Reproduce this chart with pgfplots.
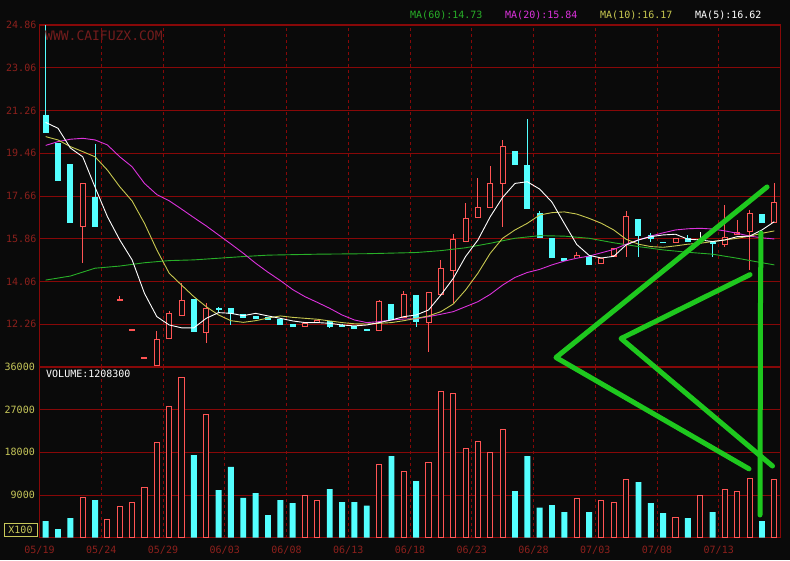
\documentclass[border=0pt]{standalone}
\usepackage{pgfplots}
\pgfplotsset{compat=1.18}
\usepackage{pgfplotstable}
\usepackage{fontspec}
\newfontfamily\mono{DejaVu Sans Mono}
\definecolor{bg}{RGB}{10,10,10}
\definecolor{gridred}{RGB}{135,8,8}
\definecolor{labred}{RGB}{140,32,28}
\definecolor{wwwred}{RGB}{115,28,28}
\definecolor{volyel}{RGB}{200,200,90}
\definecolor{cred}{RGB}{255,84,84}
\definecolor{ccyan}{RGB}{84,255,255}
\definecolor{ma60}{RGB}{40,175,40}
\definecolor{ma20}{RGB}{220,50,220}
\definecolor{ma10}{RGB}{200,200,80}
\definecolor{anno}{RGB}{30,200,30}

\pgfplotstableread{
x o c h l
3 16.34 18.21 18.21 14.85
6 13.24 13.32 13.45 13.24
7 12.01 12.03 12.03 12.01
8 10.84 10.86 10.86 10.84
9 10.51 11.64 11.99 10.51
10 11.63 12.72 12.83 11.63
11 12.62 13.28 13.98 12.62
13 11.90 12.93 13.17 11.48
21 12.16 12.30 12.30 12.16
22 12.30 12.44 12.44 12.30
27 11.99 13.24 13.28 11.99
29 12.51 13.52 13.66 12.51
31 12.33 13.61 13.61 11.10
32 13.49 14.62 14.97 13.49
33 14.52 15.84 16.08 13.14
34 15.74 16.72 17.38 15.74
35 16.72 17.18 18.43 16.72
36 17.14 18.22 18.92 17.14
37 18.15 19.78 20.02 16.37
43 15.04 15.18 15.32 15.04
45 14.80 15.04 15.04 14.80
46 15.11 15.46 15.46 15.11
47 15.60 16.82 17.04 15.11
51 15.67 15.88 15.88 15.67
55 15.60 15.95 17.28 15.50
56 16.02 16.16 16.65 16.02
57 16.16 16.93 17.07 14.55
59 16.51 17.42 18.22 16.51
}\redc

\pgfplotstableread{
x o c h l
0 21.07 20.33 24.86 20.33
1 19.88 18.29 19.88 18.29
2 19.01 16.51 19.01 16.51
4 17.63 16.37 19.85 16.37
12 13.31 11.95 13.31 11.95
14 12.91 12.89 13.00 12.79
15 12.93 12.68 12.95 12.21
16 12.68 12.54 12.68 12.54
17 12.62 12.47 12.62 12.47
18 12.57 12.43 12.57 12.43
19 12.48 12.23 12.48 12.23
20 12.28 12.16 12.28 12.16
23 12.41 12.16 12.41 12.12
24 12.21 12.19 12.27 12.13
25 12.20 12.05 12.20 12.05
26 12.07 11.99 12.07 11.99
28 13.11 12.44 13.11 12.44
30 13.49 12.37 13.49 12.16
38 19.55 18.97 19.55 18.97
39 18.97 17.10 20.90 17.10
40 16.93 15.90 17.02 15.90
41 15.88 15.04 15.88 15.04
42 15.04 14.94 15.04 14.94
44 15.13 14.75 15.13 14.75
48 16.69 15.99 16.69 15.11
49 16.02 15.85 16.12 15.74
50 15.74 15.67 15.74 15.67
52 15.88 15.74 16.00 15.74
54 15.74 15.64 15.74 15.11
58 16.90 16.54 16.90 16.54
}\cyanc

\pgfplotstableread{
x o c h l
53 15.80 15.80 16.16 15.74
}\whitec

\pgfplotstableread{
x v
3 8570
5 3870
6 6680
7 7510
8 10600
9 20150
10 27720
11 33830
13 26040
21 8920
22 7930
27 15450
29 14040
31 15940
32 30820
33 30400
34 18820
35 20350
36 17980
37 22820
43 8360
45 7930
46 7510
47 12360
51 4350
53 8990
55 10250
56 9830
57 12570
59 12360
}\redv

\pgfplotstableread{
x v
0 3515
1 1830
2 4140
4 7930
12 17400
14 10040
15 14950
16 8420
17 9400
18 4780
19 7930
20 7300
23 10250
24 7510
25 7510
26 6740
28 17200
30 11930
38 9830
39 17200
40 6320
41 6880
42 5410
44 5410
48 11720
49 7300
50 5200
52 4140
54 5410
58 3515
}\cyanv

\pgfplotsset{
  cdl/.style={draw=none, mark=none, forget plot,
    error bars/.cd, y dir=both, y explicit, error mark=none},
  panel/.style={anchor=south west, scale only axis, width=741pt,
    xmin=-0.5, xmax=59.5,
    axis line style={gridred, line width=1.4pt},
    major tick length=0pt, tick style={draw=none},
    xmajorgrids, ymajorgrids,
    x grid style={gridred, line width=0.9pt, dash pattern=on 3pt off 3pt},
    y grid style={gridred, line width=0.9pt},
    scaled y ticks=false, scaled x ticks=false,
    yticklabel style={font=\mono\fontsize{10}{12}\selectfont, inner sep=0pt, anchor=east},
    xticklabel style={font=\mono\fontsize{10}{12}\selectfont, inner sep=0pt, text=labred},
  }
}

\begin{document}
\begin{tikzpicture}[x=1pt,y=1pt]
\useasboundingbox (0,0) rectangle (790,560);
\fill[bg] (0,0) rectangle (790,560);

% ---------------- price panel ----------------
\begin{axis}[panel, at={(39.5pt,193pt)}, height=342pt,
  ymin=10.46, ymax=24.86,
  xtick={4.5,9.5,...,54.5}, xticklabels={,,,,,,,,,,,},
  ytick={12.26,14.06,15.86,17.66,19.46,21.26,23.06,24.86},
  yticklabels={12.26,14.06,15.86,17.66,19.46,21.26,23.06,24.86},
  yticklabel style={text=labred, xshift=-3pt}]
% wicks
\addplot[cdl, error bar style={draw=cred, line width=1pt}]
  table[x=x, y expr={0.5*(\thisrow{h}+\thisrow{l})}, y error expr={0.5*(\thisrow{h}-\thisrow{l})}] {\redc};
\addplot[cdl, error bar style={draw=ccyan, line width=1pt}]
  table[x=x, y expr={0.5*(\thisrow{h}+\thisrow{l})}, y error expr={0.5*(\thisrow{h}-\thisrow{l})}] {\cyanc};
\addplot[cdl, error bar style={draw=white, line width=1pt}]
  table[x=x, y expr={0.5*(\thisrow{h}+\thisrow{l})}, y error expr={0.5*(\thisrow{h}-\thisrow{l})}] {\whitec};
% bodies
\addplot[cdl, error bar style={draw=cred, line width=6pt}]
  table[x=x, y expr={0.5*(\thisrow{o}+\thisrow{c})}, y error expr={max(0.5*abs(\thisrow{o}-\thisrow{c}),0.04)}] {\redc};
\addplot[cdl, error bar style={draw=bg, line width=4pt}]
  table[x=x, y expr={0.5*(\thisrow{o}+\thisrow{c})}, y error expr={max(0.5*abs(\thisrow{o}-\thisrow{c})-0.045,0)}] {\redc};
\addplot[cdl, error bar style={draw=ccyan, line width=6pt}]
  table[x=x, y expr={0.5*(\thisrow{o}+\thisrow{c})}, y error expr={max(0.5*abs(\thisrow{o}-\thisrow{c}),0.03)}] {\cyanc};
\addplot[cdl, error bar style={draw=white, line width=6pt}]
  table[x=x, y expr={0.5*(\thisrow{o}+\thisrow{c})}, y error expr={0.03}] {\whitec};
% moving averages
\addplot[ma60, line width=0.9pt, mark=none] coordinates {
(0,14.12)(2,14.29)(4,14.62)(6,14.71)(8,14.85)(10,14.94)(12,14.97)(14,15.04)(16,15.11)(18,15.17)
(22,15.21)(26,15.23)(30,15.28)(32,15.36)(34,15.48)(36,15.67)(38,15.88)(40,15.99)(42,15.97)
(44,15.88)(46,15.69)(48,15.53)(50,15.39)(52,15.29)(54,15.21)(56,15.04)(58,14.85)(59,14.76)};
\addplot[ma20, line width=0.9pt, mark=none] coordinates {
(0,19.79)(1,19.95)(2,20.05)(3,20.09)(4,20.02)(5,19.81)(6,19.31)(7,18.89)(8,18.19)(9,17.72)
(10,17.46)(11,17.11)(12,16.75)(13,16.40)(14,16.02)(15,15.64)(16,15.25)(17,14.83)(18,14.45)(19,14.10)
(20,13.72)(21,13.42)(22,13.18)(23,12.93)(24,12.65)(25,12.44)(26,12.33)(27,12.37)(28,12.44)(29,12.48)
(30,12.49)(31,12.58)(32,12.68)(33,12.79)(34,13.00)(35,13.21)(36,13.52)(37,13.91)(38,14.23)(39,14.44)
(40,14.57)(41,14.76)(42,14.92)(43,15.04)(44,15.13)(45,15.27)(46,15.41)(47,15.63)(48,15.81)(49,15.97)
(50,16.11)(51,16.23)(52,16.28)(53,16.30)(54,16.27)(55,16.19)(56,16.09)(57,15.97)(58,15.90)(59,15.85)};
\addplot[ma10, line width=0.9pt, mark=none] coordinates {
(0,20.16)(1,20.02)(2,19.74)(3,19.53)(4,19.31)(5,18.75)(6,18.05)(7,17.45)(8,16.51)(9,15.39)
(10,14.41)(11,13.91)(12,13.42)(13,13.00)(14,12.65)(15,12.41)(16,12.34)(17,12.41)(18,12.52)(19,12.61)
(20,12.55)(21,12.51)(22,12.47)(23,12.40)(24,12.33)(25,12.28)(26,12.27)(27,12.30)(28,12.33)(29,12.41)
(30,12.51)(31,12.61)(32,12.79)(33,13.11)(34,13.70)(35,14.41)(36,15.25)(37,15.88)(38,16.23)(39,16.51)
(40,16.86)(41,16.96)(42,16.99)(43,16.90)(44,16.72)(45,16.51)(46,16.23)(47,15.84)(48,15.63)(49,15.53)
(50,15.50)(51,15.56)(52,15.63)(53,15.67)(54,15.74)(55,15.81)(56,15.88)(57,15.97)(58,16.09)(59,16.19)};
\addplot[white, line width=0.9pt, mark=none] coordinates {
(0,20.76)(1,20.51)(2,19.68)(3,19.31)(4,18.03)(5,16.79)(6,15.81)(7,14.97)(8,13.56)(9,12.58)
(10,12.23)(11,12.11)(12,12.11)(13,12.51)(14,12.75)(15,12.72)(16,12.62)(17,12.72)(18,12.61)(19,12.51)
(20,12.40)(21,12.33)(22,12.33)(23,12.30)(24,12.23)(25,12.19)(26,12.23)(27,12.33)(28,12.44)(29,12.58)
(30,12.65)(31,12.86)(32,13.49)(33,14.19)(34,15.11)(35,15.81)(36,16.79)(37,17.60)(38,18.19)(39,18.26)
(40,17.95)(41,17.40)(42,16.50)(43,15.62)(44,15.16)(45,15.05)(46,15.12)(47,15.60)(48,15.81)(49,15.95)
(50,16.02)(51,16.05)(52,15.84)(53,15.81)(54,15.74)(55,15.81)(56,15.95)(57,15.97)(58,16.23)(59,16.58)};
\end{axis}

% ---------------- volume panel ----------------
\begin{axis}[panel, at={(39.5pt,22.3pt)}, height=170.7pt,
  ymin=0, ymax=36000,
  xtick={-0.5,4.5,...,54.5},
  xticklabels={05/19,05/24,05/29,06/03,06/08,06/13,06/18,06/23,06/28,07/03,07/08,07/13},
  xticklabel style={anchor=north, yshift=-8.5pt},
  ytick={9000,18000,27000,36000},
  yticklabels={9000,18000,27000,36000},
  yticklabel style={text=volyel, xshift=-4.5pt},
  ybar, bar shift=0pt]
\addplot[draw=none, fill=ccyan, bar width=0.48] table[x=x, y=v] {\cyanv};
\addplot[draw=cred, fill=bg, line width=1pt, bar width=0.41] table[x=x, y=v] {\redv};
\end{axis}

% ---------------- hand-drawn annotation ----------------
\begin{axis}[anchor=south west, at={(39.5pt,193pt)}, scale only axis,
  width=741pt, height=342pt, xmin=-0.5, xmax=59.5, ymin=10.46, ymax=24.86,
  hide axis, clip=false]
\addplot[anno, line width=5pt, line cap=round, line join=round, mark=none]
  coordinates {(58.41,18.04)(41.32,10.86)(56.95,6.17)};
\addplot[anno, line width=5pt, line cap=round, line join=round, mark=none]
  coordinates {(57.03,14.35)(46.59,11.66)(58.85,6.29)};
\addplot[anno, line width=5pt, line cap=round, line join=round, mark=none]
  coordinates {(57.92,16.10)(57.88,13.15)(57.84,4.23)};
\end{axis}

% ---------------- texts ----------------
\node[anchor=west, inner sep=0pt, text=wwwred, font=\mono\fontsize{13}{15}\selectfont] at (45,524) {WWW.CAIFUZX.COM};
\node[anchor=west, inner sep=0pt, text=white, font=\mono\fontsize{10}{12}\selectfont] at (46,186) {VOLUME:1208300};
\node[anchor=west, inner sep=0pt, text=ma60, font=\mono\fontsize{10}{12}\selectfont] at (410,545) {MA(60):14.73};
\node[anchor=west, inner sep=0pt, text=ma20, font=\mono\fontsize{10}{12}\selectfont] at (505,545) {MA(20):15.84};
\node[anchor=west, inner sep=0pt, text=ma10, font=\mono\fontsize{10}{12}\selectfont] at (600,545) {MA(10):16.17};
\node[anchor=west, inner sep=0pt, text=white, font=\mono\fontsize{10}{12}\selectfont] at (695,545) {MA(5):16.62};
\node[draw=volyel, line width=0.8pt, text=volyel, inner sep=0pt, minimum width=33pt, minimum height=13pt,
  font=\mono\fontsize{10}{12}\selectfont] at (20.5,30.5) {X100};
\end{tikzpicture}
\end{document}
